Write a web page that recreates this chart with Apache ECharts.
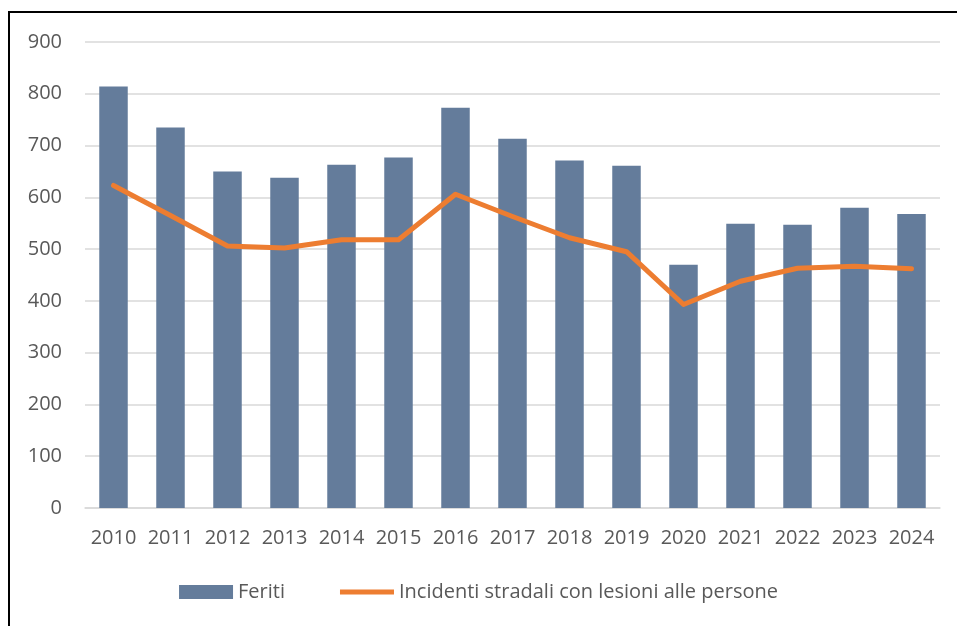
<!DOCTYPE html>
<html>
<head>
<meta charset="utf-8">
<script src="https://cdn.jsdelivr.net/npm/echarts@6/dist/echarts.min.js"></script>
<style>
  html,body{margin:0;padding:0;background:#fff;overflow:hidden;}
  .main{position:absolute;left:0;top:0;width:957px;height:626px;}
  .frame{position:absolute;left:8px;top:11px;width:1000px;height:700px;border-left:2px solid #000;border-top:2px solid #000;pointer-events:none;}
</style>
</head>
<body>
<div class="main"></div>
<div class="frame"></div>
<script>
var years=['2010','2011','2012','2013','2014','2015','2016','2017','2018','2019','2020','2021','2022','2023','2024'];
var feriti=[814,735,650,638,663,677,773,713,671,661,470,549,547,580,568];
var incidenti=[623,565,506,502,518,518,606,563,522,495,393,438,463,467,462];

var myChart=echarts.init(document.querySelector('.main'));
var txt='#595959';
// thin line icon: tiny specks at top and bottom keep the full icon height
var lineIcon='path://M0,0h0.01v0.01h-0.01z M0,4.5h56v5h-56z M0,14h0.01v0.01h-0.01z';
var option={
  animation:false,
  textStyle:{fontFamily:'Open Sans'},
  grid:{left:85,right:17,top:42,bottom:118},
  legend:{
    bottom:19,
    left:'center',
    itemWidth:54,
    itemHeight:14,
    itemGap:55,
    textStyle:{color:txt,fontSize:20,fontFamily:'Open Sans'},
    data:[
      {name:'Feriti',icon:'rect'},
      {name:'Incidenti stradali con lesioni alle persone',icon:lineIcon,itemStyle:{color:'#ed7d31'}}
    ]
  },
  xAxis:{
    type:'category',
    data:years,
    axisLine:{lineStyle:{color:'#d9d9d9',width:1.5}},
    axisTick:{show:false},
    axisLabel:{color:txt,fontSize:20,margin:20,interval:0}
  },
  yAxis:{
    type:'value',
    min:0,max:900,interval:100,
    axisLabel:{color:txt,fontSize:20,margin:23},
    splitLine:{lineStyle:{color:'#d9d9d9',width:1.5}}
  },
  series:[{
    name:'Feriti',
    type:'bar',
    data:feriti,
    barWidth:'50%',
    itemStyle:{color:'#647c9b'}
  },{
    name:'Incidenti stradali con lesioni alle persone',
    type:'line',
    data:incidenti,
    symbol:'none',
    lineStyle:{color:'#ed7d31',width:5,cap:'round',join:'round'},
    itemStyle:{color:'#ed7d31'}
  }]
};
myChart.setOption(option);
</script>
</body>
</html>
